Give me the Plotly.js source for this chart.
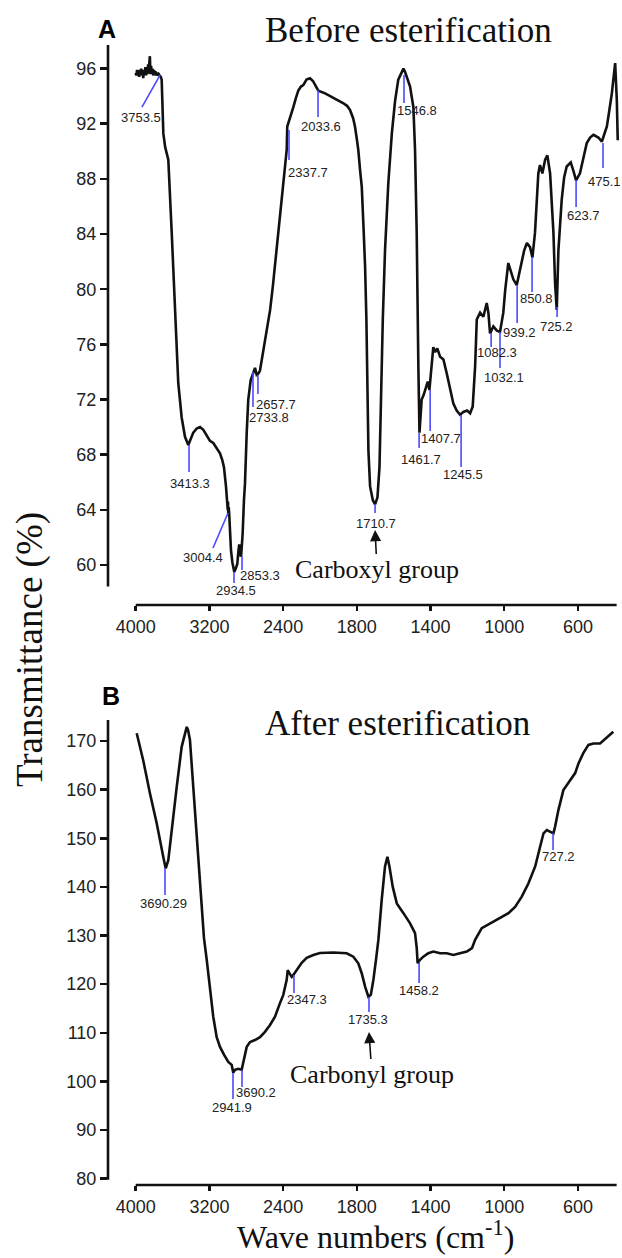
<!DOCTYPE html>
<html>
<head>
<meta charset="utf-8">
<script src="https://cdn.plot.ly/plotly-3.0.1.min.js"></script>
<style>html,body{margin:0;padding:0;background:#fff}</style>
</head>
<body>
<div id="chart" style="width:622px;height:1258px"></div>
<script>
// ---------- DATA ----------
const xTickWave = [4000, 3200, 2400, 1800, 1400, 1000, 600];
const yTicksA = [60, 64, 68, 72, 76, 80, 84, 88, 92, 96];
const yTicksB = [80, 90, 100, 110, 120, 130, 140, 150, 160, 170];

// Panel A: before esterification (wavenumber, transmittance %)
const waveA = [4000,3992,3985,3978,3970,3962,3955,3948,3940,3932,3925,3918,3910,3902,3895,3888,3880,3872,3865,3858,3852,3846,3840,3833,3826,3818,3810,3802,3794,3786,3778,3770,3760,3750,3740,3728,3718,3710,3700,3680,3646,3609,3573,3538,3501,3465,3429,3400,3375,3338,3302,3266,3229,3194,3158,3121,3085,3060,3042,3020,3006,3001,2998,2995,2990,2985,2976,2966,2951,2930,2911,2897,2884,2876,2865,2857,2850,2839,2825,2814,2795,2778,2752,2724,2705,2687,2667,2651,2615,2578,2541,2510,2470,2434,2398,2361,2355,2342,2325,2289,2260,2235,2206,2181,2146,2108,2076,2043,2018,1972,1928,1902,1875,1853,1837,1820,1810,1799,1792,1782,1773,1763,1755,1748,1744,1737,1728,1713,1701,1688,1677,1670,1659,1647,1629,1610,1592,1575,1560,1547,1538,1529,1511,1493,1484,1475,1471,1466,1460,1457,1448,1438,1430,1415,1406,1393,1385,1375,1363,1348,1330,1312,1294,1276,1258,1240,1222,1202,1185,1171,1158,1149,1131,1113,1095,1086,1077,1059,1040,1023,1005,995,978,963,950,932,919,905,892,877,860,847,833,815,806,793,778,766,751,733,724,715,706,688,675,661,639,625,610,589,571,552,534,516,489,470,458,443,431,416,398,389,384];
const transA = [95.7,95.5,95.9,95.6,95.8,95.4,95.9,95.6,96.0,95.5,95.8,95.3,95.9,95.6,96.1,95.5,96.0,95.6,96.3,95.7,96.4,96.9,95.6,96.2,95.7,96.0,95.5,95.9,95.6,95.8,95.5,95.7,95.5,95.6,95.5,95.4,95.2,93.5,91.3,90.3,89.4,84.1,78.5,73.2,70.7,69.3,68.7,69.2,69.6,69.9,70.0,69.8,69.4,69.0,68.85,68.5,68.1,67.6,67.1,65.7,64.7,64.0,64.6,63.6,64.2,63.7,62.3,61.1,60.2,59.5,59.8,60.1,61.1,61.5,60.9,60.6,61.2,62.3,64.7,65.9,69.6,72.0,73.4,74.0,74.3,73.8,73.9,74.1,75.6,76.8,78.5,80.3,82.8,85.2,87.4,90.1,91.8,92.05,92.5,93.2,93.9,94.4,94.7,94.8,95.2,95.3,95.1,94.7,94.4,94.2,93.9,93.7,93.5,93.3,93.0,92.4,91.8,90.8,90.1,88.6,87.4,84.3,81.6,77.8,74.4,68.3,65.7,64.7,64.4,64.9,67.1,72.0,77.8,82.8,87.7,91.3,93.7,95.2,95.7,96.0,95.75,95.4,94.7,93.2,90.1,84.1,77.8,74.4,69.6,70.5,72.0,72.3,72.7,73.3,72.7,74.4,75.8,75.45,75.7,75.1,74.9,73.9,72.9,71.7,71.2,70.9,71.1,71.2,71.0,71.5,74.4,77.8,78.3,78.0,79.0,78.3,76.8,77.3,77.0,76.9,78.3,79.9,81.9,81.2,80.7,80.3,81.2,82.1,82.8,83.35,83.05,82.3,84.1,88.4,89.0,88.4,89.4,89.7,88.4,84.1,80.4,78.5,82.8,86.5,88.1,88.9,89.2,88.6,87.9,88.4,89.6,90.6,91.0,91.2,91.0,90.7,91.2,91.8,92.85,94.2,96.4,93.7,90.8];

// Panel B: after esterification
const waveB = [3989,3918,3845,3772,3700,3674,3646,3609,3555,3501,3465,3446,3432,3411,3375,3338,3302,3259,3229,3194,3158,3121,3085,3042,2995,2958,2941,2922,2886,2850,2832,2795,2759,2705,2651,2597,2542,2488,2434,2398,2361,2350,2333,2307,2289,2252,2198,2144,2072,2000,1927,1855,1819,1792,1773,1755,1737,1724,1710,1696,1683,1665,1647,1634,1623,1605,1583,1547,1511,1484,1475,1470,1457,1439,1412,1385,1348,1312,1276,1240,1203,1175,1158,1122,1077,1023,977,941,905,869,832,805,787,769,751,733,724,706,679,642,615,597,571,543,516,480,444,408];
const transB = [171.6,166.0,159.2,153.1,146.1,143.8,145.5,151.1,160.5,168.8,171.9,172.9,172.3,170.2,160.5,150.2,140.0,129.5,125.0,118.8,113.3,109.1,107.1,105.5,104.0,103.4,101.8,102.4,102.6,102.4,103.8,107.1,108.1,108.5,109.1,110.2,111.6,113.3,116.1,117.8,120.9,122.9,122.3,121.5,121.9,122.9,124.4,125.4,126.0,126.4,126.5,126.35,125.65,124.3,122.2,119.5,117.4,117.8,120.9,125.0,129.1,137.3,144.2,146.2,144.2,140.0,136.6,134.6,132.5,130.5,127.5,124.3,125.0,125.65,126.35,126.7,126.35,126.35,126.0,126.35,126.7,127.4,129.1,131.5,132.5,133.55,134.6,135.9,138.0,140.7,144.2,148.3,151.0,151.7,151.35,151.0,152.4,155.8,159.9,161.9,163.4,165.4,167.5,169.2,169.5,169.5,170.6,171.9];

// Peak markers, panel A
const peakLabelA = ["3753.5","2337.7","2033.6","1546.8","475.1","623.7","850.8","725.2","939.2","1082.3","1032.1","1407.7","1461.7","1245.5","1710.7","3413.3","3004.4","2934.5","2853.3","2733.8","2657.7"];
const peakWnA   = [3736,2336,2021,1544,464,610,849,713,930,1071,1023,1402,1462,1234,1701,3421,2998,2933,2846,2727,2673];
const peakTA    = [95.53,91.54,94.44,95.53,90.60,87.92,82.33,78.71,80.30,76.82,76.90,72.69,69.57,70.88,64.42,68.70,63.77,59.49,60.65,74.00,73.78];
const tipWnA    = [3932,2336,2021,1544,464,610,849,713,930,1071,1023,1402,1462,1234,1701,3421,3161,2933,2846,2727,2673];
const tipTA     = [93.21,89.37,92.49,93.50,88.79,85.96,79.80,77.98,77.55,75.81,74.29,69.72,68.48,67.11,63.77,66.74,61.23,58.69,59.64,71.46,72.40];

// Peak markers, panel B
const peakLabelB = ["3690.29","2941.9","3690.2","2347.3","1735.3","1458.2","727.2"];
const peakWnB   = [3682,2944,2846,2282,1734,1462,735];
const peakTB    = [143.89,101.74,102.35,121.89,117.36,124.36,151.09];
const tipTB     = [138.34,96.39,98.86,118.19,114.28,120.24,147.59];

// Group callouts
const groupText = ["Carboxyl group", "Carbonyl group"];
const groupWn = [1701, 1734];
const groupT = [62.54, 110.17];

// ---------- LAYOUT HELPERS (placement only) ----------
const labelOffA = [[-1,10],[19,12],[3,10],[13,7],[1,13],[7,8],[4,7],[-1,9],[2,9],[6,6],[4,10],[11,8],[2,11],[2,8],[1,10],[1,11],[-10,9],[2,7],[18,6],[16,11],[18,10]];
const labelOffB = [[-1,9],[-1,9],[14,6],[13,7],[-1,8],[0,8],[5,7]];

// piecewise wavenumber scale: half scale above 2000 cm-1
function u(wn){ return wn <= 2000 ? wn : 2000 + (wn - 2000) / 2; }

const W = 622, H = 1258;
const px = v => v / W, py = v => 1 - v / H;

const black = '#111';
const blue = '#4a4aff';
const sans = 'Liberation Sans, Arial, sans-serif';
const serif = 'Liberation Serif, Times New Roman, serif';

function segs(xs0, ys0, xs1, ys1){
  const x = [], y = [];
  for (let i = 0; i < xs0.length; i++){ x.push(u(xs0[i]), u(xs1[i]), null); y.push(ys0[i], ys1[i], null); }
  return {x, y};
}
const sA = segs(peakWnA, peakTA, tipWnA, tipTA);
const sB = segs(peakWnB, peakTB, peakWnB, tipTB);

const traces = [
  {x: waveA.map(u), y: transA, xaxis:'x', yaxis:'y', mode:'lines', line:{color:black, width:2.6}, hoverinfo:'skip'},
  {x: sA.x, y: sA.y, xaxis:'x', yaxis:'y', mode:'lines', line:{color:blue, width:1.6}, hoverinfo:'skip'},
  {x: waveB.map(u), y: transB, xaxis:'x2', yaxis:'y2', mode:'lines', line:{color:black, width:2.6}, hoverinfo:'skip'},
  {x: sB.x, y: sB.y, xaxis:'x2', yaxis:'y2', mode:'lines', line:{color:blue, width:1.6}, hoverinfo:'skip'}
];

const xRange = [3150.3, 366.3];
const xDom = [px(108), px(621)];
function xAxis(anchor){
  return {domain:xDom, range:xRange, anchor:anchor, tickmode:'array',
    tickvals:xTickWave.map(u), ticktext:xTickWave.map(String),
    ticks:'outside', ticklen:5, tickwidth:2.5, tickcolor:black,
    showgrid:false, zeroline:false, showline:false,
    tickfont:{family:sans, size:18, color:'#222'}, fixedrange:true};
}
function yAxis(anchor, dom, range, vals){
  return {domain:dom, range:range, anchor:anchor, tickmode:'array', tickvals:vals,
    ticks:'outside', ticklen:7, tickwidth:2.5, tickcolor:black,
    showgrid:false, zeroline:false, showline:false,
    tickfont:{family:sans, size:18, color:'#222'}, fixedrange:true};
}

const annotations = [];
peakLabelA.forEach((t, i) => annotations.push({xref:'x', yref:'y', x:u(tipWnA[i]), y:tipTA[i], text:t, showarrow:false,
  xanchor:'center', yanchor:'middle', xshift:labelOffA[i][0], yshift:-labelOffA[i][1], font:{family:sans, size:13, color:'#222'}}));
peakLabelB.forEach((t, i) => annotations.push({xref:'x2', yref:'y2', x:u(peakWnB[i]), y:tipTB[i], text:t, showarrow:false,
  xanchor:'center', yanchor:'middle', xshift:labelOffB[i][0], yshift:-labelOffB[i][1], font:{family:sans, size:13, color:'#222'}}));

// group callouts with arrows
annotations.push({xref:'x', yref:'y', x:u(groupWn[0]), y:groupT[0], text:groupText[0], showarrow:true, arrowhead:2, arrowsize:1.4, arrowwidth:1.6, arrowcolor:black,
  ax:2, ay:40, standoff:0, font:{family:serif, size:26, color:'#111'}});
annotations.push({xref:'x2', yref:'y2', x:u(groupWn[1]), y:groupT[1], text:groupText[1], showarrow:true, arrowhead:2, arrowsize:1.4, arrowwidth:1.6, arrowcolor:black,
  ax:3, ay:43, standoff:0, font:{family:serif, size:26, color:'#111'}});

// panel letters, titles, axis titles
annotations.push({xref:'paper', yref:'paper', x:px(107), y:py(29), text:'<b>A</b>', showarrow:false, xanchor:'center', yanchor:'middle', font:{family:sans, size:25, color:'#000'}});
annotations.push({xref:'paper', yref:'paper', x:px(111), y:py(696), text:'<b>B</b>', showarrow:false, xanchor:'center', yanchor:'middle', font:{family:sans, size:25, color:'#000'}});
annotations.push({xref:'paper', yref:'paper', x:px(263), y:py(31), text:'Before esterification', showarrow:false, xanchor:'left', yanchor:'middle', font:{family:serif, size:35, color:'#111'}});
annotations.push({xref:'paper', yref:'paper', x:px(263), y:py(723), text:'After esterification', showarrow:false, xanchor:'left', yanchor:'middle', font:{family:serif, size:35, color:'#111'}});
annotations.push({xref:'paper', yref:'paper', x:px(30), y:py(650), text:'Transmittance (%)', showarrow:false, textangle:-90, xanchor:'center', yanchor:'middle', font:{family:serif, size:37, color:'#111'}});
annotations.push({xref:'paper', yref:'paper', x:px(375), y:py(1257), text:'Wave numbers (cm<sup>-1</sup>)', showarrow:false, xanchor:'center', yanchor:'bottom', font:{family:serif, size:32, color:'#111'}});

const shapes = [
  // panel A axis lines (detached)
  {type:'line', xref:'paper', yref:'y', x0:px(108), x1:px(108), y0:58.45, y1:97.71, line:{color:black, width:2.6}},
  {type:'line', xref:'x', yref:'paper', x0:u(4000), x1:u(390), y0:py(605), y1:py(605), line:{color:black, width:2.6}},
  // panel B axis lines
  {type:'line', xref:'paper', yref:'y2', x0:px(108), x1:px(108), y0:79.8, y1:174.3, line:{color:black, width:2.6}},
  {type:'line', xref:'x2', yref:'paper', x0:u(4000), x1:u(390), y0:py(1185), y1:py(1185), line:{color:black, width:2.6}}
];

const layout = {
  width:W, height:H, margin:{l:0, r:0, t:0, b:0, pad:0},
  paper_bgcolor:'#fff', plot_bgcolor:'#fff', showlegend:false,
  xaxis: xAxis('y'),
  yaxis: yAxis('x', [py(605), py(45)], [57.1, 97.71], yTicksA),
  xaxis2: xAxis('y2'),
  yaxis2: yAxis('x2', [py(1185), py(720)], [78.7, 174.32], yTicksB),
  annotations, shapes
};

Plotly.newPlot('chart', traces, layout, {staticPlot:true, displayModeBar:false});
</script>
</body>
</html>
